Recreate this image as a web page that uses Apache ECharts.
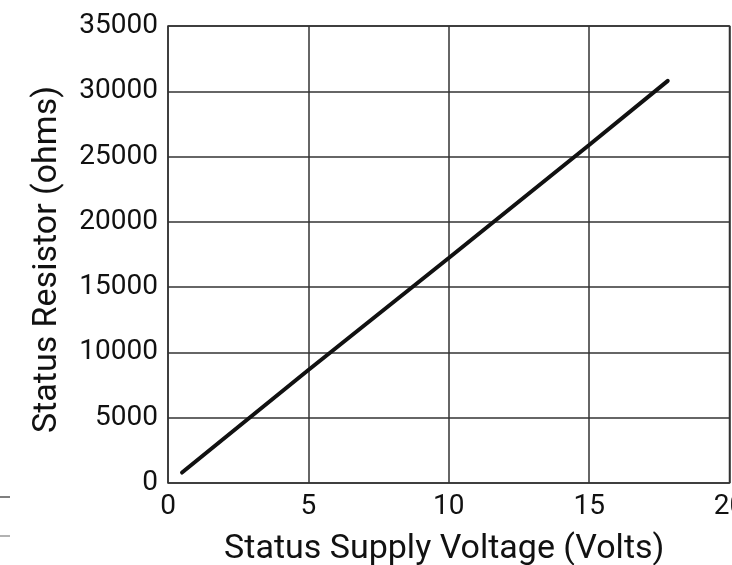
<!DOCTYPE html>
<html>
<head>
<meta charset="utf-8">
<script src="https://cdn.jsdelivr.net/npm/echarts@6/dist/echarts.min.js"></script>
<style>
  html, body { margin: 0; padding: 0; background: #fff; }
  #chart { width: 732px; height: 565px; }
</style>
</head>
<body>
<div id="chart"></div>
<script>
// values
const voltage = [0.5, 5, 10, 15, 17.8];
const resistance = [800, 8650, 17230, 25890, 30800];

const xTicks = [0, 5, 10, 15, 20];
const yTicks = [0, 5000, 10000, 15000, 20000, 25000, 30000, 35000];

const font = "Roboto, 'Liberation Sans', sans-serif";
const gridColor = "#333";

const chart = echarts.init(document.getElementById("chart"));

const option = {
  animation: false,
  backgroundColor: "#fff",
  grid: {
    left: 168,
    top: 26,
    right: 2.5,
    bottom: 82,
    outerBoundsMode: "none",
    containLabel: false,
    show: true,
    borderColor: gridColor,
    borderWidth: 1.5
  },
  xAxis: {
    type: "value",
    min: xTicks[0],
    max: xTicks[xTicks.length - 1],
    interval: 5,
    name: "Status Supply Voltage (Volts)",
    nameLocation: "middle",
    nameGap: 49,
    nameTextStyle: { fontFamily: font, fontSize: 34, color: "#111", padding: [0, 9, 0, 0] },
    axisLine: { show: false },
    axisTick: { show: false },
    axisLabel: { fontFamily: font, fontSize: 28, color: "#111", margin: 10, formatter: v => String(v) },
    splitLine: { show: true, lineStyle: { color: gridColor, width: 1.5 } }
  },
  yAxis: {
    type: "value",
    min: yTicks[0],
    max: yTicks[yTicks.length - 1],
    interval: 5000,
    name: "Status Resistor (ohms)",
    nameLocation: "middle",
    nameGap: 104,
    nameTextStyle: { fontFamily: font, fontSize: 34, color: "#111", padding: [0, 10, 0, 0] },
    axisLine: { show: false },
    axisTick: { show: false },
    axisLabel: { fontFamily: font, fontSize: 28, color: "#111", margin: 10, formatter: v => String(v) },
    splitLine: { show: true, lineStyle: { color: gridColor, width: 1.5 } }
  },
  graphic: [
    { type: "line", shape: { x1: 0, y1: 497, x2: 10, y2: 497 }, style: { stroke: "#555", lineWidth: 1.5 } },
    { type: "line", shape: { x1: 0, y1: 536, x2: 10, y2: 536 }, style: { stroke: "#999", lineWidth: 1.5 } }
  ],
  series: [
    {
      type: "line",
      data: voltage.map((v, i) => [v, resistance[i]]),
      showSymbol: false,
      lineStyle: { color: "#111", width: 4, cap: "round" }
    }
  ]
};

chart.setOption(option);
</script>
</body>
</html>
